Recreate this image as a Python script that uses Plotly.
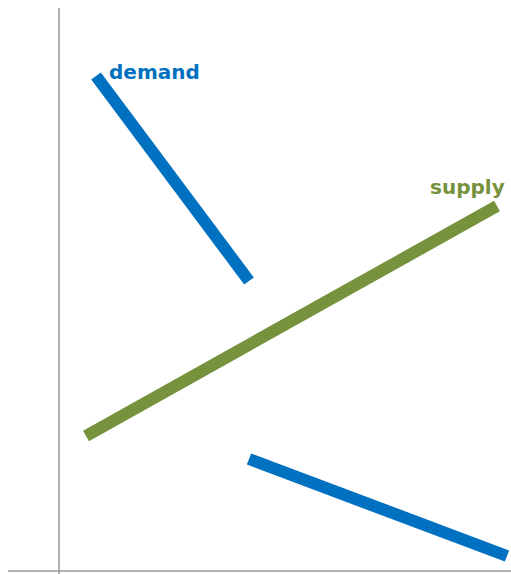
import plotly.graph_objects as go

# demand is drawn as two pieces (gap in the middle), supply as one line
demand_x = [96, 249, None, 249, 507]
demand_y = [498, 293, None, 115, 18]
supply_x = [86, 497]
supply_y = [138, 368]

axis_v_x = [59, 59]
axis_v_y = [566, -2]
axis_h_x = [8, 515]
axis_h_y = [3, 3]

blue = "#0070C0"
green = "#76923C"

fig = go.Figure()
fig.add_trace(go.Scatter(x=axis_v_x, y=axis_v_y, mode="lines",
                         line=dict(color="#999999", width=1.5), hoverinfo="skip"))
fig.add_trace(go.Scatter(x=axis_h_x, y=axis_h_y, mode="lines",
                         line=dict(color="#999999", width=1.5), hoverinfo="skip"))
fig.add_trace(go.Scatter(x=demand_x, y=demand_y, mode="lines", name="demand",
                         line=dict(color=blue, width=12)))
fig.add_trace(go.Scatter(x=supply_x, y=supply_y, mode="lines", name="supply",
                         line=dict(color=green, width=12)))

fig.add_annotation(x=154, y=502, text="<b>demand</b>", showarrow=False,
                   font=dict(family="DejaVu Sans", size=20, color=blue))
fig.add_annotation(x=467, y=387, text="<b>supply</b>", showarrow=False,
                   font=dict(family="DejaVu Sans", size=20, color=green))

fig.update_layout(
    width=511, height=574,
    margin=dict(l=0, r=0, t=0, b=0),
    plot_bgcolor="white", paper_bgcolor="white",
    showlegend=False,
    xaxis=dict(range=[0, 511], visible=False, fixedrange=True),
    yaxis=dict(range=[0, 574], visible=False, fixedrange=True),
)
# drop the default body margin so the 511x574 figure fills the window
fig.write_html("out.html", config={"displayModeBar": False},
               post_script="document.body.style.margin='0';document.body.style.overflow='hidden';")
